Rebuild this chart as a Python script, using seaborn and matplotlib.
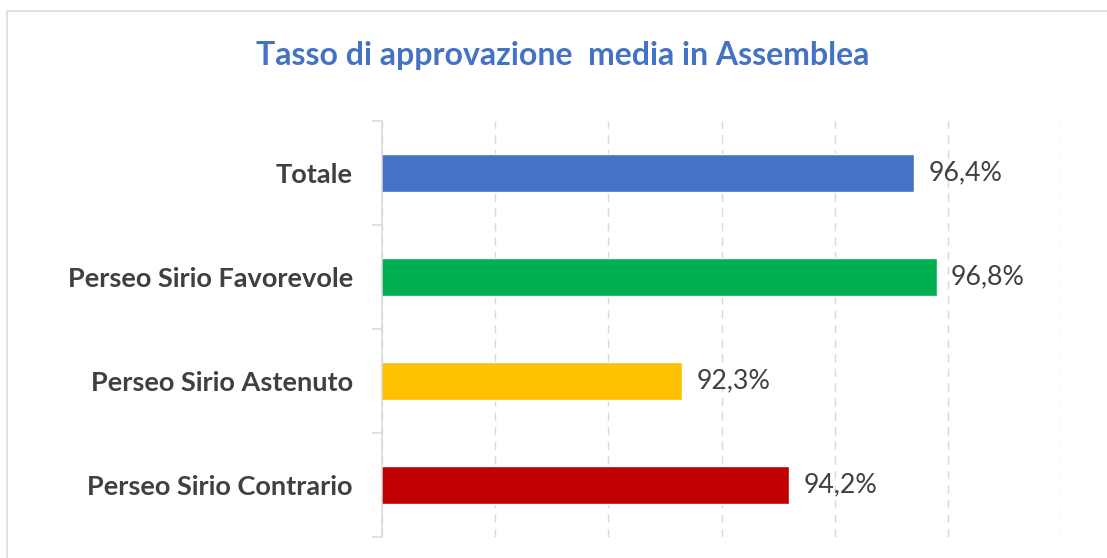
#!/usr/bin/env python3

import matplotlib

matplotlib.use("Agg")

import matplotlib.pyplot as plt
import pandas as pd
import seaborn as sns
from matplotlib.patches import Rectangle
from matplotlib.ticker import FixedLocator


categorie = [
    "Totale",
    "Perseo Sirio Favorevole",
    "Perseo Sirio Astenuto",
    "Perseo Sirio Contrario",
]
tasso = [96.4, 96.8, 92.3, 94.2]
colori = ["#4472C4", "#00B050", "#FFC000", "#C00000"]
titolo = "Tasso di approvazione  media in Assemblea"

X_MIN, X_MAX, X_STEP = 87, 99, 2

W, H = 1107, 558
TEXT_GREY = "#404040"
LINE_GREY = "#D9D9D9"


def formatta(v):
    return f"{v:.1f}%".replace(".", ",")


def main():
    sns.set_style("white")
    plt.rcParams["font.family"] = ["Lato", "DejaVu Sans"]

    df = pd.DataFrame({"categoria": categorie, "valore": tasso})

    fig = plt.figure(figsize=(W / 100, H / 100), dpi=100)
    ax = fig.add_axes([382 / W, 1 - 537 / H, (1061 - 382) / W, (537 - 121) / H])

    sns.barplot(
        data=df,
        x="valore",
        y="categoria",
        hue="categoria",
        palette=colori,
        order=categorie,
        hue_order=categorie,
        width=0.36,
        legend=False,
        saturation=1,
        ax=ax,
    )

    ax.set_xlim(X_MIN, X_MAX)
    ax.set_ylim(len(categorie) - 0.5, -0.5)

    # grid verticale tratteggiata
    ax.set_xticks(range(X_MIN, X_MAX + 1, X_STEP))
    ax.xaxis.grid(True, color=LINE_GREY, linewidth=1.0, linestyle=(0, (6, 4.5)))
    ax.set_axisbelow(True)
    ax.tick_params(axis="x", bottom=False, labelbottom=False)

    for s in ["top", "right", "bottom"]:
        ax.spines[s].set_visible(False)
    ax.spines["left"].set_color(LINE_GREY)
    ax.spines["left"].set_linewidth(1.1)

    # etichette categorie + trattini tra le categorie
    ax.tick_params(axis="y", which="major", left=False, length=0, pad=21)
    ax.yaxis.set_minor_locator(FixedLocator([i - 0.5 for i in range(len(categorie) + 1)]))
    ax.tick_params(axis="y", which="minor", left=True, length=7, width=1.1, color=LINE_GREY)
    for lab in ax.get_yticklabels():
        lab.set_fontweight("bold")
        lab.set_fontsize(19.5)
        lab.set_color(TEXT_GREY)

    ax.set_xlabel("")
    ax.set_ylabel("")

    for cont in ax.containers:
        ax.bar_label(
            cont,
            labels=[formatta(b.get_width()) for b in cont],
            padding=10.5,
            fontsize=19.3,
            color=TEXT_GREY,
        )

    fig.text(
        563 / W,
        1 - 65 / H,
        titolo,
        ha="center",
        va="baseline",
        fontsize=23,
        fontweight="bold",
        color="#4472C4",
    )

    # bordo del riquadro del grafico
    fig.patches.append(
        Rectangle(
            (7 / W, -0.1),
            1.2,
            1.1 - 11 / H,
            transform=fig.transFigure,
            fill=False,
            edgecolor=LINE_GREY,
            linewidth=1.1,
        )
    )

    fig.savefig("out.png", dpi=100)
    plt.close(fig)


if __name__ == "__main__":
    main()
